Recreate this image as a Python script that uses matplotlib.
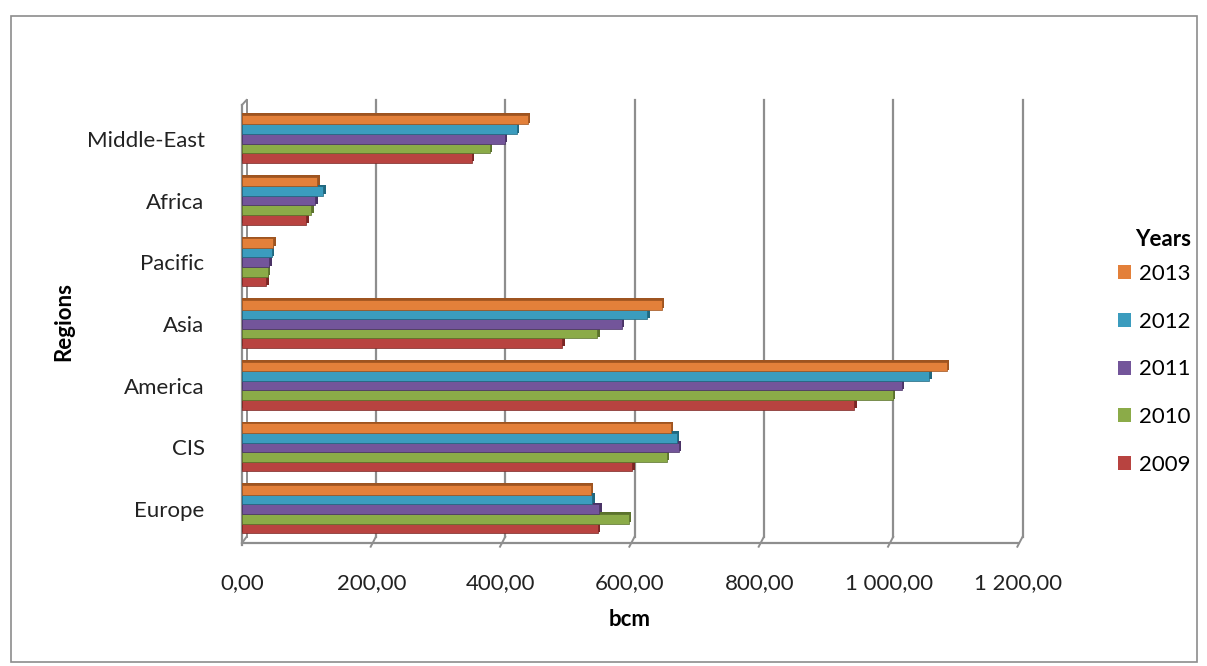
import matplotlib.pyplot as plt
from matplotlib.patches import Rectangle, Patch
from matplotlib.ticker import FuncFormatter

plt.rcParams['font.family'] = ['Lato', 'DejaVu Sans']

# Daten (bcm), von unten nach oben
regions = ["Europe", "CIS", "America", "Asia", "Pacific", "Africa", "Middle-East"]
years = ["2009", "2010", "2011", "2012", "2013"]
v2009 = [550, 603, 947, 495, 37, 99, 355]
v2010 = [598, 657, 1006, 549, 40, 107, 383]
v2011 = [552, 675, 1020, 587, 42, 113, 406]
v2012 = [542, 672, 1063, 627, 46, 126, 425]
v2013 = [539, 663, 1090, 649, 48, 116, 442]
series = [v2009, v2010, v2011, v2012, v2013]

face = ["#B84340", "#8BAB48", "#73559A", "#3B9CBE", "#E3803A"]
dark = ["#7A2624", "#5B722C", "#4A3366", "#21687F", "#9E5420"]

fs = 16
W, H = 1207, 666
fig = plt.figure(figsize=(W / 100, H / 100), dpi=100)
ax = fig.add_axes([242 / W, (H - 543) / H, (1018 - 242) / W, (543 - 100) / H])

y_lo, y_hi = -0.55, 6.63
ax.set_xlim(0, 1200)
ax.set_ylim(y_lo, y_hi)

# 3D-Rückwand: Gitterlinien leicht versetzt
dx, dy = 7, 0.1
grid_c = "#8E8E8E"
for xv in range(200, 1201, 200):
    ax.plot([xv + dx, xv + dx], [y_lo + dy, y_hi], color=grid_c, lw=1.6, zorder=1, clip_on=False)
    ax.plot([xv + dx, xv - 1], [y_lo + dy, y_lo - 0.06], color=grid_c, lw=1.4, zorder=1, clip_on=False)
# linke Wand
ax.plot([dx, dx], [y_lo + dy, y_hi], color=grid_c, lw=1.4, zorder=1, clip_on=False)
ax.plot([0, 0], [y_lo - 0.04, y_hi - 0.08], color=grid_c, lw=1.6, zorder=1, clip_on=False)
ax.plot([0, dx], [y_hi - 0.08, y_hi], color=grid_c, lw=1.4, zorder=1, clip_on=False)
ax.plot([0, dx], [y_lo, y_lo + dy], color=grid_c, lw=1.4, zorder=1, clip_on=False)
# Boden
ax.plot([0, 1200], [y_lo, y_lo], color=grid_c, lw=1.6, zorder=1, clip_on=False)

# Balken
bh = 0.156
pos = list(range(len(regions)))
for k, vals in enumerate(series):
    off = (k - 2) * bh
    ys = [p + off for p in pos]
    ax.barh([y + 0.025 for y in ys], [v + 4 for v in vals], height=bh, left=0,
            color=dark[k], zorder=2 + k * 0.1, linewidth=0)
for k, vals in enumerate(series):
    off = (k - 2) * bh
    ys = [p + off for p in pos]
    ax.barh(ys, vals, height=bh, left=0, color=face[k], edgecolor=dark[k],
            linewidth=0.5, zorder=3 + k * 0.1)

for s in ax.spines.values():
    s.set_visible(False)

ax.set_yticks(pos)
ax.set_yticklabels(regions, fontsize=fs, color="#222222")
ax.set_xticks(range(0, 1201, 200))
ax.xaxis.set_major_formatter(FuncFormatter(lambda v, p: f"{v:,.2f}".replace(",", " ").replace(".", ",")))
ax.tick_params(axis="x", length=0, pad=22, labelsize=fs, labelcolor="#222222")
ax.tick_params(axis="y", length=0, pad=27)

ax.set_xlabel("bcm", fontsize=fs, fontweight="bold", labelpad=11)
ax.set_ylabel("Regions", fontsize=fs, fontweight="bold", labelpad=9)

# Legende
handles = [Patch(facecolor=face[k], edgecolor="none", label=years[k]) for k in range(4, -1, -1)]
leg = fig.legend(handles=handles, title="Years", loc="upper left",
                 bbox_to_anchor=(1098 / W, 1 - 209 / H), frameon=False,
                 fontsize=fs, handlelength=0.6, handleheight=0.6,
                 handletextpad=0.35, labelspacing=1.25, alignment="right")
leg.get_title().set_fontweight("bold")
leg.get_title().set_fontsize(fs)
leg._legend_box.sep = 10

# Rahmen
fig.patches.append(Rectangle((11 / W, 4 / H), (1197 - 11) / W, (656 - 10) / H,
                             transform=fig.transFigure, fill=False,
                             edgecolor="#8C8C8C", linewidth=1.2))

fig.savefig("out.png", dpi=100)
